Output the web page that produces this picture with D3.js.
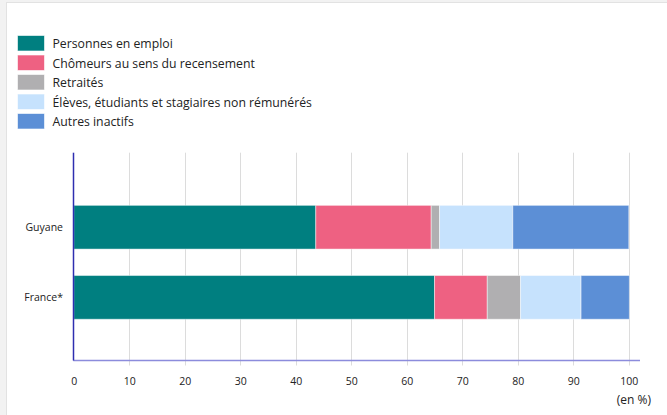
<!DOCTYPE html>
<html><head><meta charset="utf-8">
<script src="https://cdn.jsdelivr.net/npm/d3@7"></script>
<style>body{margin:0;padding:0;background:#fff}svg{display:block;font-family:"Open Sans",sans-serif}</style>
</head><body>
<svg id="c" width="667" height="415"></svg>
<script>
const categories = ["Guyane", "France*"];
const seriesNames = ["Personnes en emploi", "Chômeurs au sens du recensement", "Retraités", "Élèves, étudiants et stagiaires non rémunérés", "Autres inactifs"];
const emploi = [43.6, 65.0];
const chomeurs = [20.8, 9.5];
const retraites = [1.5, 6.0];
const eleves = [13.2, 10.9];
const autres = [20.9, 8.7];
const colors = ["#007f80", "#ee6182", "#b0afb1", "#c6e2fd", "#5c8fd6"];
const xTicks = [0, 10, 20, 30, 40, 50, 60, 70, 80, 90, 100];

const series = [emploi, chomeurs, retraites, eleves, autres];
const rows = categories.map((c, i) => {
  const o = {cat: c};
  seriesNames.forEach((s, j) => o[s] = series[j][i]);
  return o;
});
const stacked = d3.stack().keys(seriesNames)(rows);

const svg = d3.select("#c");
svg.append("rect").attr("width", 667).attr("height", 415).attr("fill", "#f2f2f2");
svg.append("rect").attr("x", 6.5).attr("y", 2.5).attr("width", 670).attr("height", 420)
  .attr("fill", "#fff").attr("stroke", "#e2e2e2");

const x = d3.scaleLinear().domain([0, 100]).range([73.8, 628.8]);
const y = d3.scaleBand().domain(categories).range([157.3, 367.3]).paddingInner(0.377).paddingOuter(0.685);
const plotTop = 152.7, plotBottom = 360.5;

// grid
const g = svg.append("g");
g.selectAll("line.grid").data(xTicks.slice(1)).join("line")
  .attr("x1", d => Math.round(x(d)) + 0.5).attr("x2", d => Math.round(x(d)) + 0.5)
  .attr("y1", plotTop).attr("y2", plotBottom + 5)
  .attr("stroke", "#dcdcdc").attr("stroke-width", 1);

// bars
svg.append("g").selectAll("g").data(stacked).join("g")
  .attr("fill", (d, i) => colors[i])
  .selectAll("rect").data(d => d).join("rect")
  .attr("x", d => x(d[0])).attr("width", d => x(d[1]) - x(d[0]))
  .attr("y", d => y(d.data.cat)).attr("height", y.bandwidth())
  .attr("stroke", "rgba(255,255,255,0.45)").attr("stroke-width", 1);

// axes
svg.append("line").attr("x1", 73.3).attr("x2", 640).attr("y1", plotBottom).attr("y2", plotBottom)
  .attr("stroke", "#8c8cdc").attr("stroke-width", 1.5);
svg.append("line").attr("x1", 73.5).attr("x2", 73.5).attr("y1", plotTop).attr("y2", plotBottom)
  .attr("stroke", "#2e2eb0").attr("stroke-width", 1.5);

const xAxis = svg.append("g").attr("transform", `translate(0,${plotBottom})`)
  .call(d3.axisBottom(x).tickValues(xTicks).tickSize(0).tickPadding(17).tickFormat(d3.format("d")));
xAxis.select(".domain").remove();
xAxis.selectAll("text").attr("font-size", 10.5).attr("fill", "#222").attr("font-family", "Open Sans");

const yAxis = svg.append("g").attr("transform", "translate(63,0)")
  .call(d3.axisLeft(y).tickSize(0).tickPadding(0));
yAxis.select(".domain").remove();
yAxis.selectAll("text").attr("font-size", 10.5).attr("fill", "#222").attr("font-family", "Open Sans");

svg.append("text").attr("x", 651).attr("y", 404).attr("text-anchor", "end")
  .attr("font-size", 12).attr("fill", "#222").text("(en %)");

// legend
const lg = svg.append("g");
seriesNames.forEach((s, i) => {
  const yy = 35 + i * 19.5;
  lg.append("rect").attr("x", 17.5).attr("y", yy + 0.5).attr("width", 27).attr("height", 15.5)
    .attr("fill", colors[i]).attr("stroke", "rgba(255,255,255,0.6)");
  lg.append("text").attr("x", 52.5).attr("y", yy + 13.3).attr("font-size", 12.25)
    .attr("fill", "#222").text(s);
});
</script>
</body></html>
